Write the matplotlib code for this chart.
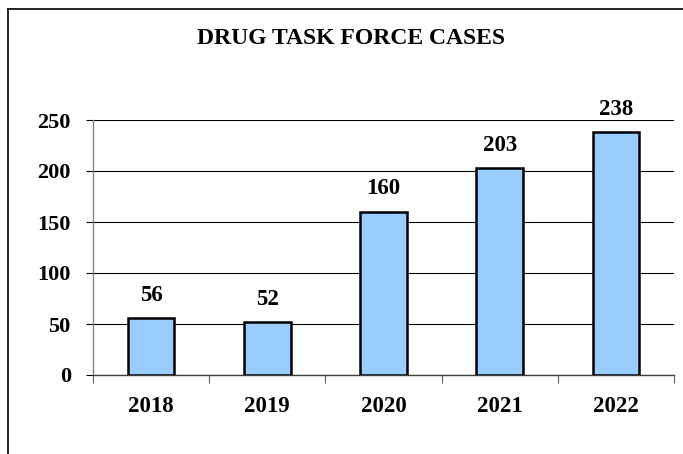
import matplotlib
matplotlib.use("Agg")
import matplotlib.pyplot as plt
from matplotlib.lines import Line2D
import numpy as np

years = ["2018", "2019", "2020", "2021", "2022"]
cases = [56, 52, 160, 203, 238]
y_ticks = [0, 50, 100, 150, 200, 250]
title = "DRUG TASK FORCE CASES"

serif = ["Liberation Serif", "DejaVu Serif"]
W, H = 683, 454
fig = plt.figure(figsize=(W / 100, H / 100), dpi=100)
fig.patch.set_facecolor("white")

left, right = 93 / W, 674 / W
bottom, top = 1 - 375 / H, 1 - 120 / H
ax = fig.add_axes([left, bottom, right - left, top - bottom])

x = np.arange(len(years))
ax.bar(x, cases, width=0.40, color="#99CCFF", edgecolor="black",
       linewidth=1.8, zorder=3)

for xi, v in zip(x, cases):
    ax.annotate(str(v), (xi, v), xytext=(0, 12.5), textcoords="offset points",
                ha="center", va="baseline", fontsize=16.5, fontweight="bold",
                family=serif, color="black", annotation_clip=False)

ax.set_xlim(-0.5, len(years) - 0.5)
ax.set_ylim(0, 250)

# horizontal gridlines
ax.set_yticks(y_ticks)
ax.yaxis.grid(True, color="black", linewidth=0.8, zorder=0)
ax.set_axisbelow(True)
ax.set_yticklabels([str(t) for t in y_ticks], fontsize=16, fontweight="bold",
                   family=serif)
ax.tick_params(axis="y", length=5, width=0.8, color="black", pad=11)

# category boundaries as major ticks, year labels as minor ticks
ax.set_xticks(np.arange(-0.5, len(years), 1.0))
ax.set_xticklabels([])
ax.tick_params(axis="x", which="major", length=5.5, width=0.8, color="#606060")
ax.set_xticks(x, minor=True)
ax.set_xticklabels(years, minor=True, fontsize=16.5, fontweight="bold", family=serif)
ax.tick_params(axis="x", which="minor", length=0, pad=15)

for s in ["top", "right"]:
    ax.spines[s].set_visible(False)
ax.spines["left"].set_color("#808080")
ax.spines["left"].set_linewidth(1.0)
ax.spines["bottom"].set_color("#404040")
ax.spines["bottom"].set_linewidth(1.0)

fig.text(351 / W, 1 - 43.5 / H, title, ha="center", va="baseline",
         fontsize=17, fontweight="bold", family=serif, color="black")

# outer frame (top and left edges)
fig.add_artist(Line2D([8 / W, 8 / W], [0, 1 - 9 / H], transform=fig.transFigure,
                      color="black", linewidth=1.2))
fig.add_artist(Line2D([8 / W, 1], [1 - 9 / H, 1 - 9 / H], transform=fig.transFigure,
                      color="black", linewidth=1.2))

fig.savefig("out.png", dpi=100, facecolor="white")
